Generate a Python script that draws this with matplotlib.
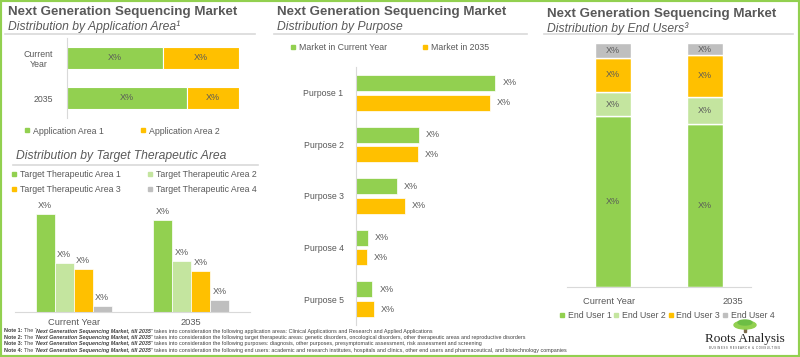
import matplotlib.pyplot as plt
from matplotlib import font_manager
from matplotlib.lines import Line2D
from matplotlib.patches import Rectangle, Ellipse

plt.rcParams['font.family'] = ['Liberation Sans', 'DejaVu Sans']

W, H = 800, 357
GREEN = '#92D050'
LIGHT = '#C4E59F'
ORANGE = '#FFC000'
GREY = '#BFBFBF'
TEXT = '#595959'
AXIS = '#D9D9D9'

# application area split (%)
app_labels = ['Current\nYear', '2035']
app_area_1 = [56, 70]
app_area_2 = [44, 30]

# target therapeutic area (%)
tta_labels = ['Current Year', '2035']
tta_area_1 = [50, 47]
tta_area_2 = [25, 26]
tta_area_3 = [22, 21]
tta_area_4 = [3, 6]

# purpose (%)
purposes = ['Purpose 1', 'Purpose 2', 'Purpose 3', 'Purpose 4', 'Purpose 5']
purpose_current = [51, 23, 15, 4.5, 6]
purpose_2035 = [49, 22.5, 18, 4, 6.5]

# end users (%)
eu_labels = ['Current Year', '2035']
end_user_1 = [70, 67]
end_user_2 = [10, 11]
end_user_3 = [14, 17]
end_user_4 = [6, 5]

fig = plt.figure(figsize=(W / 100, H / 100), dpi=100)


def fx(x):
    return x / W


def fy(y):
    return 1 - y / H


def add_ax(x0, y0, x1, y1):
    ax = fig.add_axes([fx(x0), fy(y1), (x1 - x0) / W, (y1 - y0) / H])
    ax.set_facecolor('none')
    for s in ax.spines.values():
        s.set_visible(False)
    ax.tick_params(length=0, colors=TEXT, labelsize=6.3)
    return ax


def heading(x, y, title, sub, line_x1, line_y):
    if title:
        fig.text(fx(x), fy(y), title, fontsize=9.6, weight='bold', color=TEXT, va='center')
    fig.text(fx(x), fy(y + 15), sub, fontsize=8.7, style='italic', color=TEXT, va='center')
    fig.add_artist(Line2D([fx(x - 3), fx(line_x1)], [fy(line_y), fy(line_y)],
                          color=AXIS, lw=1.2, transform=fig.transFigure))


def legend(handles_spec, x, y, ncol, colsp, rowsp=0.55):
    hs = [Line2D([], [], marker='s', ls='none', color=c, markersize=3.3, label=l)
          for l, c in handles_spec]
    fig.legend(handles=hs, loc='center left', bbox_to_anchor=(fx(x), fy(y)), ncol=ncol,
               frameon=False, fontsize=6.3, handlelength=0.7, handletextpad=0.3,
               columnspacing=colsp, borderpad=0, borderaxespad=0, labelspacing=rowsp,
               labelcolor=TEXT)


LBL = 6.5

# ---------- application area ----------
heading(8, 12, 'Next Generation Sequencing Market', 'Distribution by Application Area\u00b9', 255, 34)
ax = add_ax(67, 38, 239, 118)
ax.spines['left'].set_visible(True)
ax.spines['left'].set_color(AXIS)
b1 = ax.barh(app_labels, app_area_1, height=0.55, color=GREEN, edgecolor='white', lw=0.8)
b2 = ax.barh(app_labels, app_area_2, left=app_area_1, height=0.55, color=ORANGE,
             edgecolor='white', lw=0.8)
for b in (b1, b2):
    ax.bar_label(b, labels=['X%'] * len(app_labels), label_type='center', fontsize=LBL, color=TEXT)
ax.set_xlim(0, 100)
ax.set_ylim(1.5, -0.5)
ax.set_xticks([])
ax.tick_params(axis='y', pad=10)
for t in ax.get_yticklabels():
    t.set_multialignment('center')
legend([('Application Area 1', GREEN), ('Application Area 2', ORANGE)], 24, 131, 2, 4.2)

# ---------- target therapeutic area ----------
heading(16, 141, None, 'Distribution by Target Therapeutic Area', 258, 165)
legend([('Target Therapeutic Area 1', GREEN), ('Target Therapeutic Area 3', ORANGE),
        ('Target Therapeutic Area 2', LIGHT), ('Target Therapeutic Area 4', GREY)],
       11, 182, 2, 3.0, 0.75)
ax = add_ax(15, 190, 250, 312)
ax.spines['bottom'].set_visible(True)
ax.spines['bottom'].set_color(AXIS)
xs = range(len(tta_labels))
bw = 0.162
for i, (vals, col) in enumerate([(tta_area_1, GREEN), (tta_area_2, LIGHT),
                                 (tta_area_3, ORANGE), (tta_area_4, GREY)]):
    pos = [x + (i - 1.5) * bw for x in xs]
    bars = ax.bar(pos, vals, width=bw, color=col, edgecolor='white', lw=0.5)
    ax.bar_label(bars, labels=['X%'] * len(vals), padding=3, fontsize=LBL, color=TEXT)
ax.set_xlim(-0.5, 1.5)
ax.set_ylim(0, 62.5)
ax.set_yticks([])
ax.set_xticks(list(xs))
ax.set_xticklabels(tta_labels, fontsize=6.7)
ax.tick_params(axis='x', pad=4)

# ---------- purpose ----------
heading(277, 12, 'Next Generation Sequencing Market', 'Distribution by Purpose', 527, 34)
legend([('Market in Current Year', GREEN), ('Market in 2035', ORANGE)], 290, 48, 2, 4.0)
ax = add_ax(356, 67, 520, 325)
ax.spines['left'].set_visible(True)
ax.spines['left'].set_color(AXIS)
ys = range(len(purposes))
bh = 0.31
g = ax.barh([y - 0.19 for y in ys], purpose_current, height=bh, color=GREEN,
            edgecolor='white', lw=0.5)
o = ax.barh([y + 0.19 for y in ys], purpose_2035, height=bh, color=ORANGE,
            edgecolor='white', lw=0.5)
for b in (g, o):
    ax.bar_label(b, labels=['X%'] * len(purposes), padding=5, fontsize=LBL, color=TEXT)
ax.set_ylim(4.5, -0.5)
ax.set_xlim(0, 60)
ax.set_xticks([])
ax.set_yticks(list(ys))
ax.set_yticklabels(purposes, fontsize=6.3)
ax.tick_params(axis='y', pad=9)

# ---------- end users ----------
heading(547, 14, 'Next Generation Sequencing Market', 'Distribution by End Users\u00b3', 793, 34)
ax = add_ax(567, 43, 751, 287)
ax.spines['bottom'].set_visible(True)
ax.spines['bottom'].set_color(AXIS)
xs = list(range(len(eu_labels)))
bottom = [0] * len(xs)
for vals, col in [(end_user_1, GREEN), (end_user_2, LIGHT), (end_user_3, ORANGE), (end_user_4, GREY)]:
    bars = ax.bar(xs, vals, bottom=bottom, width=0.39, color=col, edgecolor='white', lw=1)
    ax.bar_label(bars, labels=['X%'] * len(xs), label_type='center', fontsize=LBL, color=TEXT)
    bottom = [b + v for b, v in zip(bottom, vals)]
ax.set_xlim(-0.5, 1.5)
ax.set_ylim(0, 100)
ax.set_yticks([])
ax.set_xticks([-0.04, 1.3])
ax.set_xticklabels(eu_labels, fontsize=6.7)
ax.tick_params(axis='x', pad=7)
legend([('End User 1', GREEN), ('End User 2', LIGHT), ('End User 3', ORANGE), ('End User 4', GREY)],
       559, 316, 4, 0.2)

# ---------- notes ----------
notes = [
    'the following application areas: Clinical Applications and Research and Applied Applications',
    'the following target therapeutic areas: genetic disorders, oncological disorders, other therapeutic areas and reproductive disorders',
    'the following purposes: diagnosis, other purposes, presymptomatic assessment, risk assessment and screening',
    'the following end users: academic and research institutes, hospitals and clinics, other end users and pharmaceutical, and biotechnology companies',
]
names = {f.name for f in font_manager.fontManager.ttflist}
if 'Liberation Sans Narrow' in names:
    note_family, note_size = ['Liberation Sans Narrow', 'Liberation Sans'], 4.7
else:
    note_family, note_size = ['Liberation Sans', 'DejaVu Sans'], 3.9

renderer = fig.canvas.get_renderer()
for i, n in enumerate(notes):
    x = fx(4)
    y = fy(331 + i * 6.4)
    parts = [('Note %d: ' % (i + 1), 'bold', 'normal'), ('The \u201c', 'normal', 'normal'),
             ('Next Generation Sequencing Market, till 2035', 'bold', 'italic'),
             ('\u201d takes into consideration ' + n, 'normal', 'normal')]
    for txt, w, st in parts:
        t = fig.text(x, y, txt, fontsize=note_size, family=note_family, weight=w, style=st,
                     color='#404040', va='center')
        x += t.get_window_extent(renderer=renderer).width / W

# ---------- logo ----------
fig.add_artist(Rectangle((fx(744), fy(332)), 2 / W, 5 / H, color='#7a6a4a', transform=fig.transFigure))
fig.add_artist(Ellipse((fx(745), fy(325)), 22 / W, 8 / H, color=GREEN, transform=fig.transFigure))
fig.add_artist(Ellipse((fx(745), fy(322.5)), 14 / W, 5 / H, color='#6DBE45', transform=fig.transFigure))
fig.text(fx(745), fy(339), 'Roots Analysis', fontsize=9.5, family='Liberation Serif',
         color='#222222', ha='center', va='center')
fig.text(fx(745), fy(348), 'B U S I N E S S   R E S E A R C H   &   C O N S U L T I N G',
         fontsize=1.9, color='#333333', ha='center', va='center')

# border
fig.add_artist(Rectangle((0, 0), 1, 1, fill=False, edgecolor=GREEN, lw=3, transform=fig.transFigure))

fig.savefig('out.png', dpi=100)
